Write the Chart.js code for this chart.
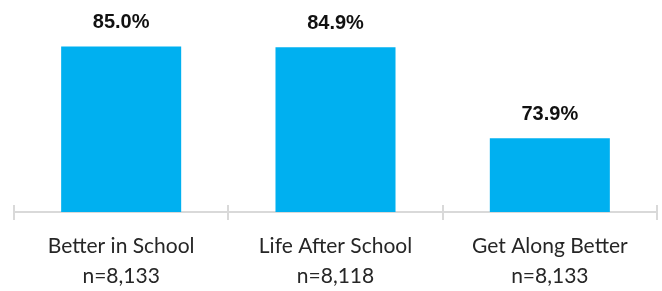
<!DOCTYPE html>
<html>
<head>
<meta charset="utf-8">
<script src="https://cdn.jsdelivr.net/npm/chart.js@4.4.0/dist/chart.umd.min.js"></script>
<style>
    html, body { margin: 0; padding: 0; background: #fff; }
    #wrap { width: 662px; height: 291px; }
</style>
</head>
<body>
<div id="wrap"><canvas id="barChart" width="662" height="291"></canvas></div>
<script>
// ===========================
// DATA
// ===========================
const categories = ['Better in School', 'Life After School', 'Get Along Better'];
const sampleSizes = ['n=8,133', 'n=8,118', 'n=8,133'];
const percentValues = [85.0, 84.9, 73.9];

// Draws the value labels above bars and the boundary tick marks on the axis
const barDecorations = {
    id: 'barDecorations',
    afterDatasetsDraw(chart) {
        const ctx = chart.ctx;
        const meta = chart.getDatasetMeta(0);
        const xScale = chart.scales.x;
        const bottom = chart.chartArea.bottom;

        ctx.save();
        ctx.font = 'bold 20px "Liberation Sans", Arial, sans-serif';
        ctx.fillStyle = '#111';
        ctx.textAlign = 'center';
        ctx.textBaseline = 'middle';
        meta.data.forEach((bar, i) => {
            ctx.fillText(percentValues[i].toFixed(1) + '%', bar.x, bar.y - 24);
        });

        // tick marks between categories
        const step = xScale.getPixelForValue(1) - xScale.getPixelForValue(0);
        ctx.strokeStyle = '#d9d9d9';
        ctx.lineWidth = 2;
        for (let i = 0; i <= categories.length; i++) {
            const x = Math.round(xScale.getPixelForValue(0) - step / 2 + i * step);
            ctx.beginPath();
            ctx.moveTo(x, bottom - 7);
            ctx.lineTo(x, bottom + 8);
            ctx.stroke();
        }
        ctx.restore();
    }
};

new Chart(document.getElementById('barChart'), {
    type: 'bar',
    data: {
        labels: categories.map((c, i) => [c, sampleSizes[i]]),
        datasets: [{
            data: percentValues,
            backgroundColor: '#00b0f0',
            categoryPercentage: 0.56,
            barPercentage: 1.0
        }]
    },
    options: {
        responsive: false,
        animation: false,
        layout: {
            padding: { left: 14, right: 5, top: 30, bottom: 0 }
        },
        plugins: {
            legend: { display: false },
            tooltip: { enabled: false }
        },
        scales: {
            x: {
                grid: { display: false, drawTicks: false },
                border: { display: true, color: '#d9d9d9', width: 2 },
                afterFit(scale) { scale.height = 79; },
                ticks: {
                    padding: 19,
                    color: '#262626',
                    font: { family: 'Lato, "Open Sans", sans-serif', size: 21, lineHeight: 1.43 }
                }
            },
            y: {
                display: false,
                min: 65,
                max: 87
            }
        }
    },
    plugins: [barDecorations]
});
</script>
</body>
</html>
